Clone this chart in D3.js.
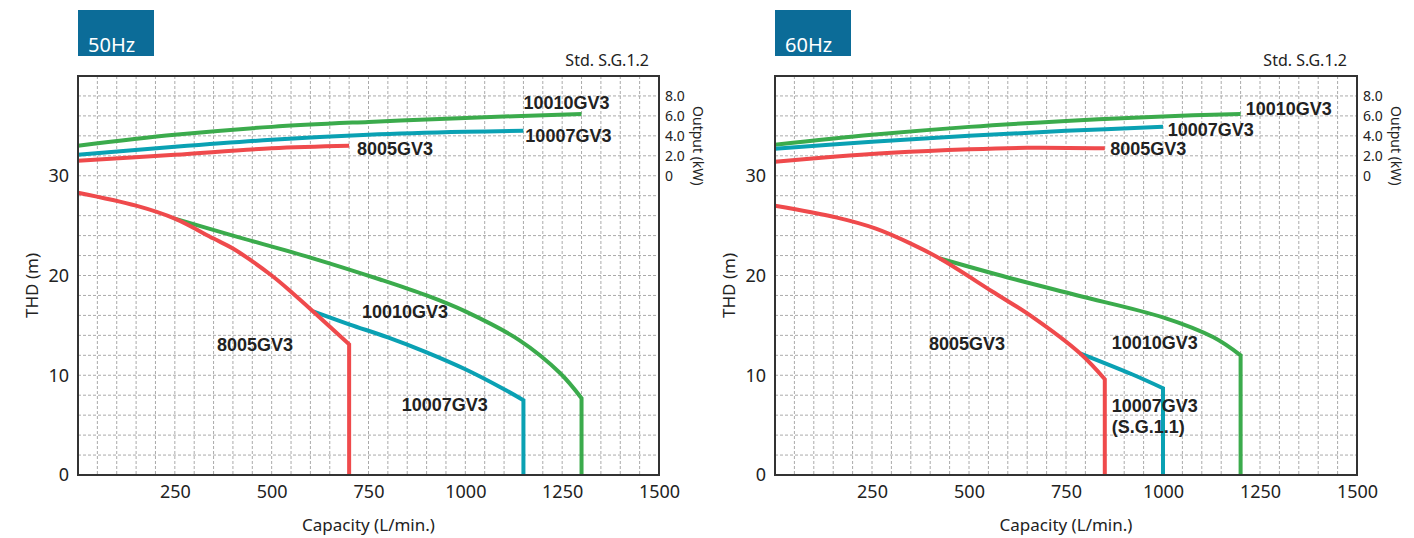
<!DOCTYPE html>
<html>
<head>
<meta charset="utf-8">
<title>GV3 pump curves</title>
<style>
  body { margin: 0; background: #fff; }
  svg { display: block; }
  .tick text { font-family: "Noto Sans", sans-serif; fill: #222; }
  .lbl { font-family: "Liberation Sans", Arial, sans-serif; font-weight: bold; fill: #222; }
</style>
</head>
<body>
<div id="chart"></div>
<script src="https://cdnjs.cloudflare.com/ajax/libs/d3/7.8.5/d3.min.js"></script>
<script>
// axis ticks
const xTicks = [250, 500, 750, 1000, 1250, 1500];
const yTicks = [0, 10, 20, 30];
const kwTicks = [0, 2, 4, 6, 8];

// 50Hz head curves [L/min, m]
const head50_8005 = [[0, 28.3], [150, 27.0], [250, 25.7], [350, 23.7], [400, 22.7], [500, 20.0], [555, 18.2], [607, 16.4], [700, 13.1]];
const head50_10007 = [[607, 16.4], [700, 15.1], [800, 13.8], [900, 12.3], [1000, 10.6], [1100, 8.6], [1150, 7.5]];
const head50_10010 = [[250, 25.7], [400, 24.0], [600, 21.8], [780, 19.6], [900, 18.0], [1000, 16.4], [1140, 13.5], [1245, 10.2], [1300, 7.7]];
// 50Hz output curves [L/min, kW]
const out50_8005 = [[0, 1.5], [250, 2.1], [500, 2.75], [700, 3.0]];
const out50_10007 = [[0, 2.1], [250, 2.9], [500, 3.6], [750, 4.1], [1000, 4.4], [1150, 4.5]];
const out50_10010 = [[0, 3.0], [250, 4.1], [500, 4.9], [750, 5.4], [1000, 5.8], [1300, 6.2]];

// 60Hz head curves
const head60_8005 = [[0, 27.0], [160, 25.8], [260, 24.7], [350, 23.2], [425, 21.7], [560, 18.4], [665, 15.8], [786, 12.2], [850, 9.6]];
const head60_10007 = [[786, 12.2], [920, 10.1], [1000, 8.7]];
const head60_10010 = [[425, 21.7], [600, 19.8], [780, 18.0], [1000, 15.8], [1130, 13.8], [1200, 12.0]];
// 60Hz output curves
const out60_8005 = [[0, 1.4], [150, 1.9], [300, 2.3], [500, 2.65], [650, 2.8], [850, 2.75]];
const out60_10007 = [[0, 2.7], [250, 3.4], [500, 4.0], [750, 4.5], [1000, 4.9]];
const out60_10010 = [[0, 3.1], [250, 4.1], [500, 4.9], [750, 5.5], [1000, 5.95], [1200, 6.2]];

const colors = { "8005GV3": "#ef4a4c", "10007GV3": "#0aa1b3", "10010GV3": "#3bab4c" };

const svg = d3.select("#chart").append("svg").attr("width", 1414).attr("height", 538);

function drawChart(left, right, title, heads, outs, labels) {
  const top = 76, bottom = 475;
  const x = d3.scaleLinear().domain([0, 1500]).range([left, right]);
  const y = d3.scaleLinear().domain([0, 40]).range([bottom, top]);
  const yk = d3.scaleLinear().domain([0, 10]).range([y(30), y(40)]);
  const g = svg.append("g");

  // title box
  g.append("rect").attr("x", left).attr("y", 10).attr("width", 76).attr("height", 46).attr("fill", "#0c6c98");
  g.append("text").attr("x", left + 10).attr("y", 52).attr("fill", "#fff")
    .style("font-family", "Noto Sans, sans-serif").style("font-size", "20px").text(title);

  g.append("text").attr("x", right - 10).attr("y", 66).attr("text-anchor", "end")
    .style("font-family", "Noto Sans, sans-serif").style("font-size", "16px").attr("fill", "#222")
    .text("Std. S.G.1.2");

  // grid
  const grid = g.append("g").attr("stroke", "#aaa").attr("stroke-width", 1).attr("stroke-dasharray", "3,2");
  grid.selectAll("line.v").data(d3.range(50, 1500, 50)).join("line")
    .attr("x1", d => x(d)).attr("x2", d => x(d)).attr("y1", top).attr("y2", bottom);
  grid.selectAll("line.h").data(d3.range(2, 40, 2)).join("line")
    .attr("y1", d => y(d)).attr("y2", d => y(d)).attr("x1", left).attr("x2", right);

  // axes
  g.append("g").attr("transform", `translate(0,${bottom})`)
    .call(d3.axisBottom(x).tickValues(xTicks).tickSize(0).tickPadding(10).tickFormat(d3.format("d")))
    .call(a => a.select(".domain").remove())
    .selectAll("text").style("font-size", "18px");
  g.append("g").attr("transform", `translate(${left},0)`)
    .call(d3.axisLeft(y).tickValues(yTicks).tickSize(0).tickPadding(9))
    .call(a => a.select(".domain").remove())
    .selectAll("text").style("font-size", "18px");
  g.append("g").attr("transform", `translate(${right},0)`)
    .call(d3.axisRight(yk).tickValues(kwTicks).tickSize(0).tickPadding(6)
      .tickFormat(d => d === 0 ? "0" : d.toFixed(1)))
    .call(a => a.select(".domain").remove())
    .selectAll("text").style("font-size", "14px");

  g.append("text").attr("x", (left + right) / 2).attr("y", 531).attr("text-anchor", "middle")
    .style("font-family", "Noto Sans, sans-serif").style("font-size", "17px").attr("fill", "#222")
    .text("Capacity (L/min.)");
  g.append("text").attr("transform", `translate(${left - 40},${y(19)}) rotate(-90)`).attr("text-anchor", "middle")
    .style("font-family", "Noto Sans, sans-serif").style("font-size", "17px").attr("fill", "#222")
    .text("THD (m)");
  g.append("text").attr("transform", `translate(${right + 34},${y(33)}) rotate(90)`).attr("text-anchor", "middle")
    .style("font-family", "Noto Sans, sans-serif").style("font-size", "14px").attr("fill", "#222")
    .text("Output (kW)");

  // curves
  const line = d3.line().x(d => x(d[0])).y(d => y(d[1])).curve(d3.curveCatmullRom.alpha(0.5));
  const kline = d3.line().x(d => x(d[0])).y(d => yk(d[1])).curve(d3.curveCatmullRom.alpha(0.5));

  outs.forEach(s => {
    g.append("path").attr("d", kline(s.data)).attr("fill", "none")
      .attr("stroke", colors[s.name]).attr("stroke-width", 4);
  });
  heads.forEach(s => {
    const last = s.data[s.data.length - 1];
    const d = line(s.data) + `L${x(last[0])},${y(0)}`;
    g.append("path").attr("d", d).attr("fill", "none")
      .attr("stroke", colors[s.name]).attr("stroke-width", 4).attr("stroke-linejoin", "miter");
  });

  // frame
  g.append("rect").attr("x", left).attr("y", top).attr("width", right - left).attr("height", bottom - top)
    .attr("fill", "none").attr("stroke", "#333").attr("stroke-width", 2);

  labels.forEach(l => {
    const t = g.append("text").attr("class", "lbl").attr("x", x(l.q)).attr("y", y(l.h))
      .style("font-size", "18px");
    l.text.split("\n").forEach((s, i) => {
      t.append("tspan").attr("x", x(l.q)).attr("dy", i ? 21 : 0).text(s);
    });
  });
}

drawChart(78, 659, "50Hz",
  [{ name: "10010GV3", data: head50_10010 }, { name: "10007GV3", data: head50_10007 }, { name: "8005GV3", data: head50_8005 }],
  [{ name: "10010GV3", data: out50_10010 }, { name: "10007GV3", data: out50_10007 }, { name: "8005GV3", data: out50_8005 }],
  [
    { text: "10010GV3", q: 1150, h: 36.7 },
    { text: "10007GV3", q: 1155, h: 33.4 },
    { text: "8005GV3", q: 720, h: 32.1 },
    { text: "10010GV3", q: 733, h: 15.7 },
    { text: "10007GV3", q: 836, h: 6.4 },
    { text: "8005GV3", q: 359, h: 12.4 }
  ]);

drawChart(775, 1357, "60Hz",
  [{ name: "10010GV3", data: head60_10010 }, { name: "10007GV3", data: head60_10007 }, { name: "8005GV3", data: head60_8005 }],
  [{ name: "10010GV3", data: out60_10010 }, { name: "10007GV3", data: out60_10007 }, { name: "8005GV3", data: out60_8005 }],
  [
    { text: "10010GV3", q: 1213, h: 36.1 },
    { text: "10007GV3", q: 1012, h: 34.0 },
    { text: "8005GV3", q: 864, h: 32.1 },
    { text: "10010GV3", q: 868, h: 12.6 },
    { text: "10007GV3\n(S.G.1.1)", q: 868, h: 6.3 },
    { text: "8005GV3", q: 397, h: 12.5 }
  ]);
</script>
</body>
</html>
